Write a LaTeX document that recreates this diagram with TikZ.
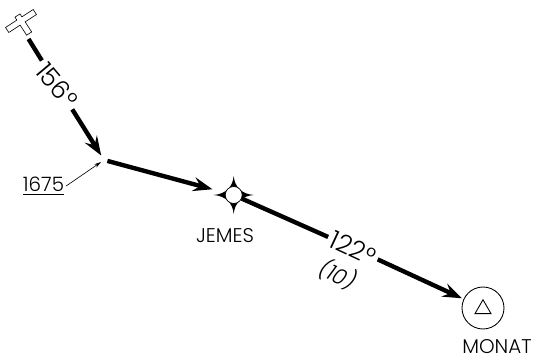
\documentclass[tikz,border=0pt]{standalone}
\usepackage{fontspec}
\setmainfont{Poppins Light}
\usetikzlibrary{arrows.meta,shapes.geometric}
\tikzset{
  course/.style={line width=2.5pt},
  coursearrow/.style={course,-{Stealth[length=11pt,width=8pt,inset=4pt]}},
  leader/.style={line width=0.35pt,-{Stealth[length=4pt,width=2.2pt]},shorten >=2pt},
  fixname/.style={font=\fontsize{11.3}{13}\selectfont,inner sep=1pt},
  crsname/.style={font=\fontsize{14.5}{16}\selectfont,inner sep=2pt},
  waypt/.style={circle,draw,line width=0.4pt,fill=white,inner sep=0pt,minimum size=0.34cm}
}
\begin{document}
\begin{tikzpicture}[x=0.02cm,y=-0.02cm]
            \useasboundingbox (0,0) rectangle (535,358);

            % Define the aircraft
            \begin{scope}[shift={(21,21)},rotate=33]
                \draw[line width=0.35pt,fill=white] (-16.5,-3) -- (-3,-3) -- (-3,-6.5) -- (3,-6.5) -- (3,-3) -- (16.5,-3)
                    -- (16.5,3) -- (3,3) -- (3,15) -- (-3,15) -- (-3,3) -- (-16.5,3) -- cycle;
            \end{scope}
            \coordinate (plane) at (23,30);

            % Define the fix and the named points
            \coordinate (turn) at (104,160);
            \fill[shift={(233.7,195)}] (0,-19) .. controls (1,-8) and (8,-1) .. (20,0)
                .. controls (8,1) and (1,8) .. (0,19)
                .. controls (-1,8) and (-8,1) .. (-20,0)
                .. controls (-8,-1) and (-1,-8) .. (0,-19) -- cycle;
            \node[waypt] (jemes) at (233.7,195) {};
            \node[circle,draw,line width=0.5pt,inner sep=0pt,minimum size=0.84cm] (monat) at (483,308) {};
            \node[regular polygon,regular polygon sides=3,draw,line width=0.5pt,inner sep=0pt,minimum size=0.37cm] (monatsym) at (483,309) {};

            % Add labels
            \node[fixname] (jemeslbl) at (225,235.5) {JEMES};
            \node[fixname] (monatlbl) at (497,347) {MONAT};
            \node[fixname] (alt) at (43.5,186) {\underline{1675}};
            \node[crsname,rotate=-50] (crsa) at (57,85) {156°};
            \node[crsname,rotate=-25] (crsb) at (353,248) {122°};
            \node[fixname,font=\fontsize{12.3}{14}\selectfont,rotate=-25,xslant=0.2] (dist) at (338,275) {(10)};

            % Add the course lines
            \draw[course,shorten <=6pt] (plane) -- (crsa);
            \draw[coursearrow,shorten >=3pt] (crsa) -- (turn);
            \draw[coursearrow,shorten <=2pt,shorten >=7.5pt] (turn) -- (jemes);
            \draw[course] (jemes) -- (crsb);
            \draw[coursearrow,shorten >=1pt] (crsb) -- (monat);
            \draw[leader] (alt.east) -- (turn);
        \end{tikzpicture}
\end{document}
